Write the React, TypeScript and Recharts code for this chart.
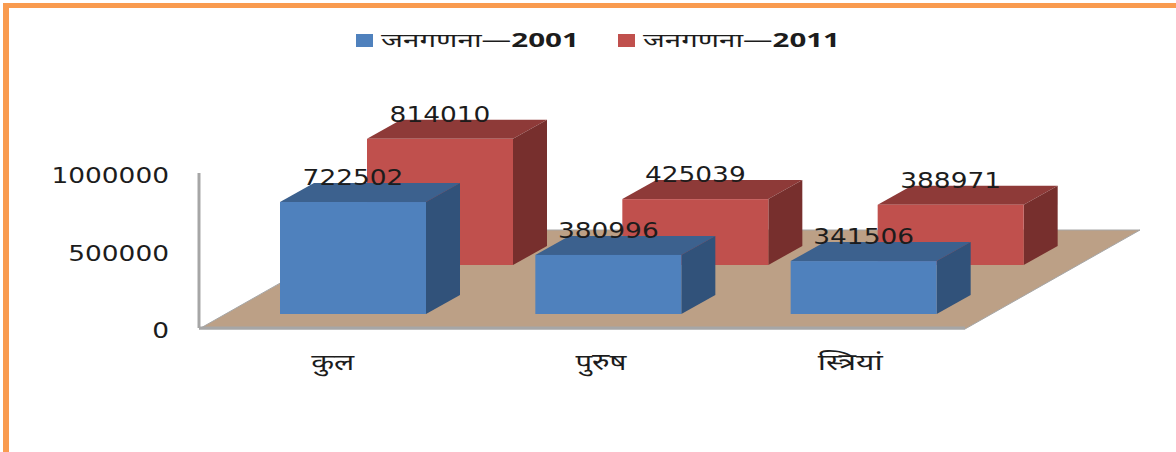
import React from "react";
import { BarChart, Bar, XAxis, YAxis, Legend, ReferenceArea } from "recharts";

const categories = ["कुल", "पुरुष", "स्त्रियां"];
const census2001 = [722502, 380996, 341506];
const census2011 = [814010, 425039, 388971];
const yTicks = [0, 500000, 1000000];
const nameWord = "जनगणना—";
const year2001 = "2001";
const year2011 = "2011";
const name2001 = nameWord + year2001;
const name2011 = nameWord + year2011;

const rows = categories.map((category, i) => ({
  category,
  y2001: census2001[i],
  y2011: census2011[i],
}));

const BAR_W = 146;
const DEPTH_X = 34;
const DEPTH_Y = 19;
const NUM_FONT = "'DejaVu Sans', sans-serif";
const TICK_NUDGE = [6, 19, 13];
const TICK_WIDTH = [43, 51, 65];

const digitsText = (value: number | string, x: number, y: number, anchor: string) => {
  const s = String(value);
  return (
    <text
      x={x}
      y={y}
      textAnchor={anchor as any}
      fontFamily={NUM_FONT}
      fontSize={22}
      fill="#1c1c1c"
      textLength={s.length * 16.8}
      lengthAdjust="spacingAndGlyphs"
    >
      {s}
    </text>
  );
};

const box3d =
  (key: "y2001" | "y2011", dx: number, dy: number, front: string, top: string, side: string) =>
  (props: any) => {
    const x = props.x + dx;
    const w = props.width;
    const y = props.y + dy;
    const b = y + props.height;
    const value = props.payload[key];
    return (
      <g>
        <polygon
          points={`${x},${y} ${x + w},${y} ${x + w + DEPTH_X},${y - DEPTH_Y} ${x + DEPTH_X},${y - DEPTH_Y}`}
          fill={top}
        />
        <polygon
          points={`${x + w},${y} ${x + w + DEPTH_X},${y - DEPTH_Y} ${x + w + DEPTH_X},${b - DEPTH_Y} ${x + w},${b}`}
          fill={side}
        />
        <rect x={x} y={y} width={w} height={props.height} fill={front} />
        {digitsText(value, x + w / 2, y - DEPTH_Y + 2, "middle")}
      </g>
    );
  };

const floorShape = (props: any) => {
  const { x, y, width, height } = props;
  const by = y + height + 1;
  const pts = `${x},${by} ${x + width},${by} ${x + width + 175},${by - 99} ${x + 175},${by - 99}`;
  return <polygon points={pts} fill="#BCA086" stroke="#A6A6A6" strokeWidth={1} />;
};

const YTick = (props: any) => digitsText(props.payload.value, 169, props.y + 10, "end");

const XTick = (props: any) => (
  <text
    x={props.x + TICK_NUDGE[props.index]}
    y={props.y + 34}
    textAnchor="middle"
    fontFamily="'Noto Sans', 'DejaVu Sans', serif"
    fontSize={23}
    fill="#1c1c1c"
    textLength={TICK_WIDTH[props.index]}
    lengthAdjust="spacingAndGlyphs"
  >
    {props.payload.value}
  </text>
);

const legendEntry = (word: string, year: string, x: number, width: number) => (
  <text
    x={x}
    y={47}
    fontFamily="'Noto Sans', 'DejaVu Sans', sans-serif"
    fontSize={19}
    fill="#1c1c1c"
    textLength={width}
    lengthAdjust="spacingAndGlyphs"
  >
    {word}
    <tspan fontWeight={700}>{year}</tspan>
  </text>
);

const LegendBlock = () => (
  <svg width={1176} height={60} style={{ display: "block" }}>
    <rect x={356} y={34} width={17} height={13} fill="#4F81BD" />
    {legendEntry(nameWord, year2001, 381, 198)}
    <rect x={618} y={34} width={17} height={13} fill="#C0504D" />
    {legendEntry(nameWord, year2011, 643, 197)}
  </svg>
);

export default function App() {
  return (
    <div style={{ position: "absolute", left: 0, top: 0, width: 1176, height: 452, background: "#fff", overflow: "hidden" }}>
      <div style={{ position: "absolute", left: 3, top: 3, right: 0, height: 5, background: "#F99B4F" }} />
      <div style={{ position: "absolute", left: 3, top: 3, bottom: 0, width: 6, background: "#F99B4F" }} />
      <BarChart
        width={1176}
        height={452}
        data={rows}
        barSize={BAR_W}
        barGap={-BAR_W}
        margin={{ top: 113, right: 211, bottom: 94, left: 0 }}
        style={{ position: "absolute", left: 0, top: 0 }}
      >
        <Legend
          verticalAlign="top"
          height={60}
          content={LegendBlock}
          wrapperStyle={{ left: 0, top: 0, width: 1176, height: 60 }}
        />
        <XAxis dataKey="category" axisLine={{ stroke: "#A6A6A6", strokeWidth: 3 }} tickLine={false} tick={XTick} height={30} interval={0} />
        <YAxis
          width={199}
          domain={[0, 1000000]}
          ticks={yTicks}
          axisLine={{ stroke: "#A6A6A6", strokeWidth: 3 }}
          tickLine={false}
          tick={YTick}
          interval={0}
        />
        <ReferenceArea y1={0} y2={1000000} shape={floorShape} ifOverflow="visible" />
        <Bar dataKey="y2011" name={name2011} isAnimationActive={false} shape={box3d("y2011", 113, -63, "#C0504D", "#8E3A38", "#772F2D")} />
        <Bar dataKey="y2001" name={name2001} isAnimationActive={false} shape={box3d("y2001", 26, -14, "#4F81BD", "#3C618E", "#31527A")} />
      </BarChart>
    </div>
  );
}
